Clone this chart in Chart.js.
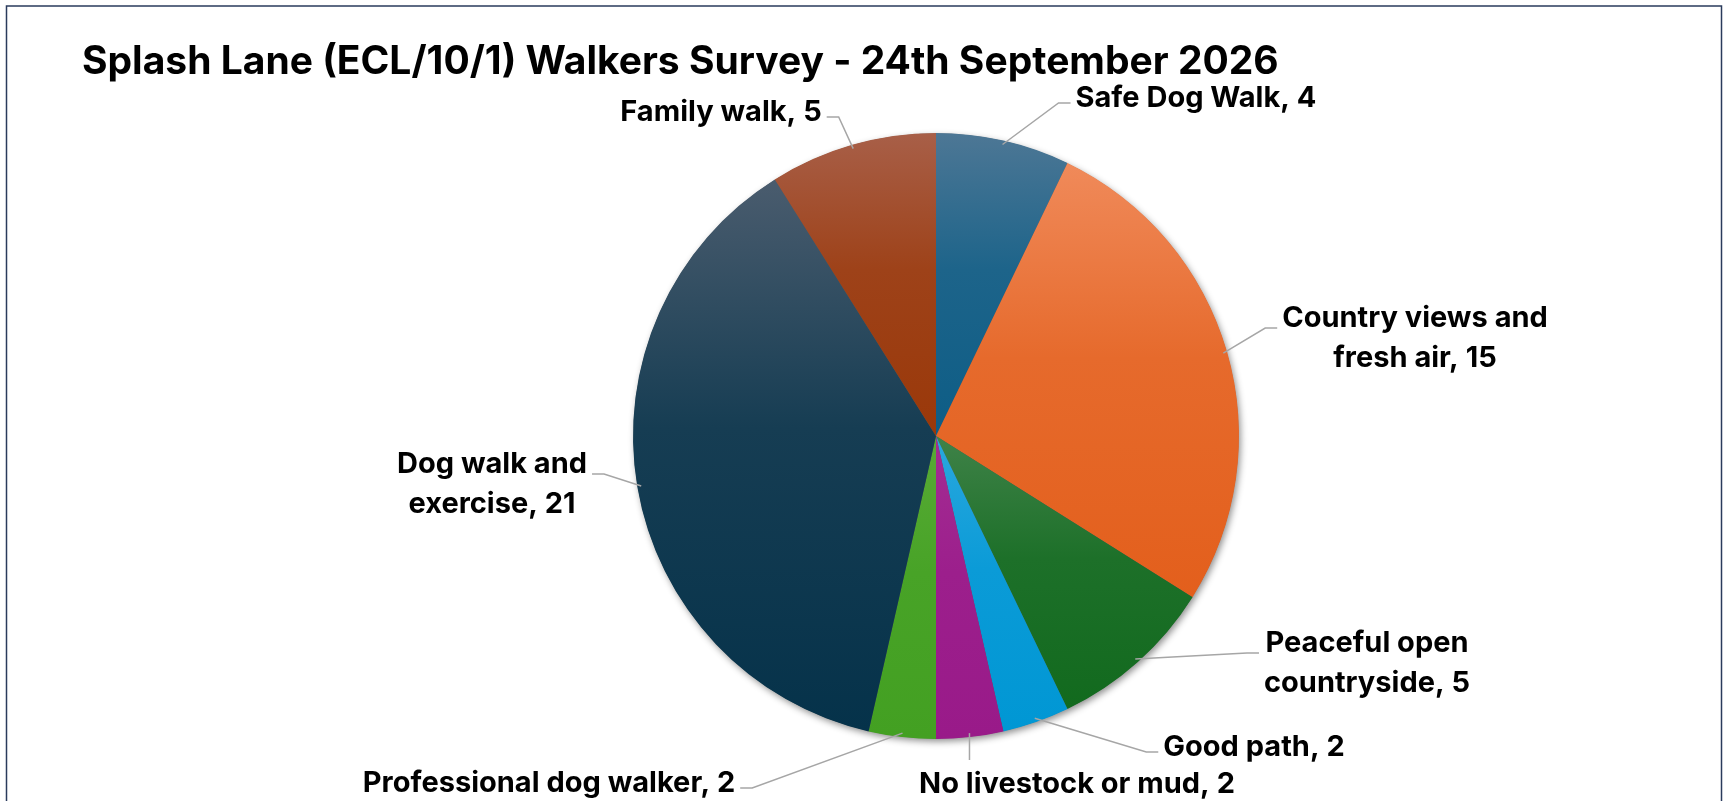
<!DOCTYPE html>
<html lang="en">
<head>
  <meta charset="UTF-8">
  <title>Splash Lane Walkers Survey</title>
  <script src="https://cdn.jsdelivr.net/npm/chart.js"></script>
  <style>
    html, body { margin: 0; padding: 0; background: #fff; overflow: hidden; }
    #wrap { position: relative; width: 1726px; height: 801px; }
  </style>
</head>
<body>
  <div id="wrap"><canvas id="grafico"></canvas></div>

  <script>
    // data, clockwise from 12 o'clock
    const categories = ['Safe Dog Walk', 'Country views and fresh air', 'Peaceful open countryside', 'Good path',
      'No livestock or mud', 'Professional dog walker', 'Dog walk and exercise', 'Family walk'];
    const counts = [4, 15, 5, 2, 2, 2, 21, 5];
    const title = 'Splash Lane (ECL/10/1) Walkers Survey - 24th September 2026';

    // colours: lighter top, darker bottom of each slice
    const topColors = ['#4d7795', '#f08a5a', '#3f8248', '#2aa8de', '#a42d93', '#58ab36', '#4a5c6e', '#a85f48'];
    const bottomColors = ['#0d5d86', '#e35f1c', '#126a1e', '#0097d4', '#991a89', '#43a022', '#05324a', '#9a3809'];

    // label layout: text centre offset from pie centre, wrap width, side the leader joins
    const labelOffsets = [[260, -338], [479, -98], [431, 227], [318, 311], [141, 348], [-387, 347], [-444, 48], [-215, -324]];
    const labelWrap = [400, 290, 220, 400, 400, 500, 230, 400];
    const labelSide = ['left', 'left', 'left', 'left', 'top', 'right', 'right', 'right'];

    const FONT = '"Inter", "Liberation Sans", sans-serif';
    const total = counts.reduce((a, b) => a + b, 0);

    function sliceGradient(c) {
      const chart = c.chart;
      const area = chart.chartArea;
      if (!area) return topColors[c.dataIndex];
      const i = c.dataIndex;
      const cx = (area.left + area.right) / 2, cy = (area.top + area.bottom) / 2;
      const r = Math.min(area.right - area.left, area.bottom - area.top) / 2;
      let before = 0;
      for (let k = 0; k < i; k++) before += counts[k];
      const a0 = -Math.PI / 2 + 2 * Math.PI * before / total;
      const a1 = a0 + 2 * Math.PI * counts[i] / total;
      let ys = [cy, cy + r * Math.sin(a0), cy + r * Math.sin(a1)];
      [-Math.PI / 2, Math.PI / 2, 3 * Math.PI / 2].forEach(a => { if (a > a0 && a < a1) ys.push(cy + r * Math.sin(a)); });
      const y0 = Math.min(...ys), y1 = Math.max(...ys);
      const g = chart.ctx.createLinearGradient(0, y0, 0, y1);
      g.addColorStop(0, topColors[i]);
      g.addColorStop(0.45, mix(topColors[i], bottomColors[i], 0.75));
      g.addColorStop(1, bottomColors[i]);
      return g;
    }

    function mix(a, b, t) {
      const pa = [1, 3, 5].map(k => parseInt(a.substr(k, 2), 16));
      const pb = [1, 3, 5].map(k => parseInt(b.substr(k, 2), 16));
      return 'rgb(' + pa.map((v, k) => Math.round(v + (pb[k] - v) * t)).join(',') + ')';
    }

    function wrapText(ctx, text, maxW) {
      const words = text.split(' ');
      const lines = [];
      let cur = '';
      words.forEach(w => {
        const test = cur ? cur + ' ' + w : w;
        if (ctx.measureText(test).width > maxW && cur) { lines.push(cur); cur = w; }
        else cur = test;
      });
      lines.push(cur);
      return lines;
    }

    const framePlugin = {
      id: 'frame',
      beforeDraw(chart) {
        const ctx = chart.ctx;
        ctx.save();
        ctx.strokeStyle = '#2a3b5c';
        ctx.lineWidth = 1.5;
        ctx.strokeRect(6.5, 6, 1715, 820);
        ctx.fillStyle = '#000';
        ctx.font = 'bold 39px ' + FONT;
        ctx.textBaseline = 'alphabetic';
        ctx.fillText(title, 82, 74);
        ctx.restore();
      },
      beforeDatasetsDraw(chart) {
        const arc = chart.getDatasetMeta(0).data[0];
        if (!arc) return;
        const ctx = chart.ctx;
        ctx.save();
        ctx.shadowColor = 'rgba(0,0,0,0.45)';
        ctx.shadowBlur = 7;
        ctx.shadowOffsetX = 2;
        ctx.shadowOffsetY = 3;
        ctx.fillStyle = '#555';
        ctx.beginPath();
        ctx.arc(arc.x, arc.y, arc.outerRadius - 0.5, 0, Math.PI * 2);
        ctx.fill();
        ctx.restore();
      },
      afterDatasetsDraw(chart) {
        const ctx = chart.ctx;
        const meta = chart.getDatasetMeta(0);
        ctx.save();
        ctx.font = 'bold 29px ' + FONT;
        ctx.fillStyle = '#000';
        ctx.textAlign = 'center';
        ctx.textBaseline = 'middle';
        const lh = 40;
        meta.data.forEach((arc, i) => {
          const mid = (arc.startAngle + arc.endAngle) / 2;
          const ax = arc.x + (arc.outerRadius - 4) * Math.cos(mid);
          const ay = arc.y + (arc.outerRadius - 4) * Math.sin(mid);
          const lines = wrapText(ctx, categories[i] + ', ' + counts[i], labelWrap[i]);
          const tx = arc.x + labelOffsets[i][0];
          const ty = arc.y + labelOffsets[i][1];
          const w = Math.max(...lines.map(l => ctx.measureText(l).width));
          const h = lines.length * lh;
          lines.forEach((l, k) => ctx.fillText(l, tx, ty - h / 2 + lh / 2 + k * lh));

          // leader line
          ctx.strokeStyle = '#a6a6a6';
          ctx.lineWidth = 1.5;
          ctx.beginPath();
          if (labelSide[i] === 'top') {
            const ey = ty - h / 2 - 4;
            ctx.moveTo(ax, ay);
            ctx.lineTo(ax, ey);
          } else {
            const dir = labelSide[i] === 'left' ? -1 : 1;
            const ex = tx + dir * (w / 2 + 5);
            const ey = lines.length > 1 ? ty - 10 : ty + 5;
            ctx.moveTo(ex, ey);
            ctx.lineTo(ex + dir * 12, ey);
            ctx.lineTo(ax, ay);
          }
          ctx.stroke();
        });
        ctx.restore();
      }
    };

    new Chart(document.getElementById('grafico'), {
      type: 'pie',
      data: {
        labels: categories,
        datasets: [{
          data: counts,
          backgroundColor: sliceGradient,
          borderWidth: 0
        }]
      },
      options: {
        responsive: true,
        maintainAspectRatio: false,
        animation: false,
        layout: { padding: { top: 133, bottom: 62, left: 633, right: 487 } },
        plugins: {
          legend: { display: false },
          tooltip: { enabled: false }
        }
      },
      plugins: [framePlugin]
    });
  </script>
</body>
</html>
